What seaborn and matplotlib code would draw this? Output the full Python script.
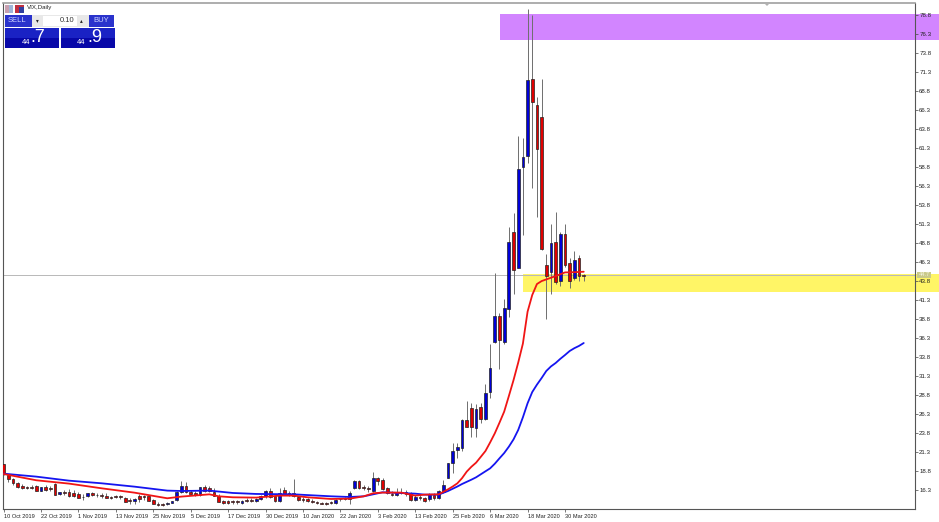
import numpy as np
import pandas as pd
import matplotlib
matplotlib.use('Agg')
import matplotlib.pyplot as plt
from matplotlib.patches import Rectangle
import seaborn as sns

opens = [19.7,18.32,17.79,17.27,16.91,16.78,16.74,16.83,16.26,16.78,16.56,17.09,15.86,16.04,16.04,15.91,15.86,15.47,15.51,15.95,
         15.73,15.69,15.6,15.38,15.51,15.51,15.25,14.98,14.94,15.55,15.51,15.51,14.98,14.5,14.5,14.46,14.68,15.03,16.04,16.87,
         16.12,16.0,15.69,16.7,16.56,16.12,15.6,14.94,14.9,14.9,14.85,14.59,15.07,15.07,14.9,15.16,15.51,16.21,15.51,14.94,
         16.3,16.0,15.91,15.38,15.12,15.16,14.85,14.72,14.68,14.68,14.72,14.68,15.2,15.25,15.16,16.56,17.57,16.74,16.56,16.21,
         17.97,17.66,16.56,15.82,15.64,16.12,16.12,15.91,14.98,15.38,15.25,15.16,15.69,15.33,16.12,17.97,19.85,21.56,21.91,25.55,
         27.09,24.54,27.31,25.69,29.28,35.81,39.23,35.85,40.11,50.32,45.51,58.88,60.28,70.38,66.95,65.38,45.9,45.06,48.93,43.87,
         50.0,46.17,44.19,46.82,44.67]
highs = [19.8,18.41,17.9,17.44,17.09,16.91,17.0,17.0,16.78,17.0,16.91,17.22,16.12,16.34,16.48,16.34,16.04,15.77,16.0,16.04,
         16.0,15.91,15.91,15.6,15.73,15.73,15.38,15.25,15.29,15.77,15.69,15.6,15.16,14.72,14.68,14.72,14.94,16.21,17.53,17.44,
         16.34,16.21,16.78,17.0,16.91,16.56,15.77,15.07,14.98,15.07,15.07,14.98,15.25,15.25,15.34,15.69,16.34,16.56,15.69,16.65,
         16.7,16.21,17.79,15.6,15.38,15.34,15.16,14.9,14.81,14.81,14.9,15.16,15.34,15.42,16.21,17.7,17.66,17.0,16.91,18.67,
         18.06,17.88,16.78,16.21,16.56,16.56,16.34,16.12,15.69,15.69,15.47,16.0,15.9,16.34,17.66,19.94,22.57,22.57,25.64,28.1,
         27.75,27.66,27.75,30.29,35.55,44.89,39.6,41.43,50.9,52.74,62.95,62.69,79.59,78.8,68.01,70.38,47.35,51.3,52.95,50.3,
         51.34,46.86,47.78,47.26,44.76]
lows = [18.3,17.35,17.0,16.65,16.48,16.48,16.48,16.21,16.21,16.21,16.21,15.69,15.69,15.69,15.47,15.47,15.25,15.03,15.47,15.6,
        15.38,15.34,15.25,15.16,15.25,15.16,14.72,14.5,14.55,14.81,15.03,14.9,14.46,14.28,14.28,14.37,14.59,14.9,15.95,15.91,
        15.77,15.6,15.6,16.12,16.04,15.51,14.72,14.55,14.55,14.55,14.55,14.5,14.72,14.77,14.77,14.98,15.34,15.34,14.81,14.72,
        15.69,15.51,15.38,14.9,14.81,14.72,14.59,14.5,14.46,14.42,14.5,14.55,14.9,14.98,14.55,16.43,16.43,16.3,16.04,16.04,
        17.0,16.34,15.77,15.55,15.55,15.77,15.6,14.9,14.9,15.03,14.81,14.94,15.03,15.2,16.0,17.88,18.54,20.51,21.52,24.59,
        23.36,23.36,25.12,25.55,28.4,35.7,32.26,35.6,39.14,42.12,45.5,49.89,59.36,56.07,52.3,47.92,38.8,42.12,43.44,43.18,
        45.72,42.92,43.97,43.84,43.88]
closes = [18.4,17.79,17.22,16.78,16.65,16.65,16.61,16.26,16.7,16.34,16.48,15.69,16.04,15.95,15.6,15.6,15.29,15.38,15.91,15.69,
          15.64,15.55,15.29,15.29,15.42,15.38,14.81,14.9,15.2,15.12,15.42,14.94,14.5,14.42,14.42,14.68,14.9,16.12,16.87,16.12,
          15.86,15.69,16.7,16.26,16.21,15.6,14.81,14.63,14.63,14.77,14.72,14.9,14.94,14.85,15.2,15.6,16.21,15.47,14.94,15.91,
          15.86,15.77,15.51,14.98,14.98,14.85,14.77,14.63,14.55,14.55,14.63,14.98,15.12,15.16,15.95,17.57,16.56,16.61,16.43,17.97,
          17.53,16.48,16.0,15.64,16.12,15.95,15.77,14.98,15.38,15.29,14.85,15.82,15.29,16.21,17.0,19.85,21.47,21.96,25.55,24.68,
          24.59,27.04,25.69,29.06,32.44,39.23,36.07,40.24,49.01,45.28,58.6,60.15,70.24,67.43,61.24,48.0,44.53,48.88,43.74,50.0,
          45.94,43.87,46.6,44.53,44.45]

fast_bar = [0,7,14,21,28,35,38,44,46,49,54,59,62,65,70,74,77,79,81,85,88,90,93,95,96,97,98,99,100,101,102,103,104,105,106,107,108,109,110,111,112,113,114,115,116,118,120,122,124]
fast_ma = [18.45,17.62,17.18,16.56,15.99,15.25,15.47,15.77,15.51,15.38,15.34,15.6,15.6,15.38,15.16,15.2,15.51,15.91,16.0,16.0,15.6,15.73,15.77,16.43,16.8,17.22,17.9,18.76,19.4,19.94,20.7,21.47,22.6,23.8,25.2,26.65,28.7,30.8,33.1,35.6,39.8,42.0,43.44,43.83,44.05,44.49,44.97,45.0,45.06]
slow_bar = [0,7,14,21,28,35,38,44,49,54,62,70,74,77,79,81,88,90,93,95,97,98,100,101,103,104,105,106,107,108,109,110,111,112,113,114,115,116,117,118,119,120,121,122,123,124]
slow_ma = [18.49,18.1,17.57,17.22,16.78,16.26,16.21,16.26,15.95,15.82,15.77,15.51,15.42,15.51,15.77,16.04,15.86,15.73,15.73,16.21,16.8,17.13,17.7,18.01,18.8,19.19,19.8,20.51,21.2,22.04,23.0,24.24,25.9,27.75,29.23,30.2,31.07,32.0,32.6,33.05,33.6,34.1,34.63,35.0,35.3,35.68]

date_labels = ['10 Oct 2019','22 Oct 2019','1 Nov 2019','13 Nov 2019','25 Nov 2019','5 Dec 2019','17 Dec 2019','30 Dec 2019',
               '10 Jan 2020','22 Jan 2020','3 Feb 2020','13 Feb 2020','25 Feb 2020','6 Mar 2020','18 Mar 2020','30 Mar 2020']
price_labels = ['%.1f' % (16.3 + 2.5 * n) for n in range(26)]

sns.set_style('white')
plt.rcParams['font.family'] = ['Liberation Sans', 'DejaVu Sans']
W, H = 939, 522

df = pd.DataFrame({'open': opens, 'high': highs, 'low': lows, 'close': closes})
df['bar'] = df.index
fast = pd.DataFrame({'bar': fast_bar, 'ma': fast_ma})
slow = pd.DataFrame({'bar': slow_bar, 'ma': slow_ma})

fig = plt.figure(figsize=(W / 100, H / 100), dpi=100)
ax = fig.add_axes([3 / W, 1 - 509 / H, 912 / W, 506 / H])
ax.set_xlim(-0.107, 194.8)
ax.set_ylim(13.84, 80.42)
ax.set_axisbelow('line')

# zones run past the price axis up to the image edge
ax.add_patch(Rectangle((106.1, 75.55), 94, 3.42, fc='#d285ff', ec='none', clip_on=False, zorder=1))
ax.add_patch(Rectangle((111.0, 42.39), 89, 2.37, fc='#fff566', ec='none', clip_on=False, zorder=1))
ax.axhline(44.63, color='#b8b8b8', lw=0.7, zorder=2)

ax.vlines(df['bar'], df['low'], df['high'], color='#6e6e6e', lw=0.7, zorder=3)
up = df[df['close'] >= df['open']]
down = df[df['close'] < df['open']]
ax.bar(up['bar'], up['close'] - up['open'], bottom=up['open'], width=0.58, color='#0000d8', edgecolor='#222222', lw=0.5, zorder=4)
ax.bar(down['bar'], down['open'] - down['close'], bottom=down['close'], width=0.58, color='#e00000', edgecolor='#222222', lw=0.5, zorder=4)

sns.lineplot(data=slow, x='bar', y='ma', color='#1515f0', lw=1.3, ax=ax, zorder=5)
sns.lineplot(data=fast, x='bar', y='ma', color='#f01515', lw=1.3, ax=ax, zorder=6)

ax.set_xlabel('')
ax.set_ylabel('')
ax.set_xticks(range(0, 121, 8))
ax.set_xticklabels(date_labels, fontsize=4.1, color='#222222', ha='left', va='top')
ax.set_yticks([16.3 + 2.5 * n for n in range(26)])
ax.set_yticklabels(price_labels, fontsize=4.4, color='#222222')
ax.yaxis.tick_right()
ax.tick_params(axis='x', length=2, width=0.5, color='#444444', pad=1.5, bottom=True)
ax.tick_params(axis='y', length=2, width=0.5, color='#444444', pad=1, right=True)
for name, sp in ax.spines.items():
    sp.set_color('#555555')
    sp.set_linewidth(0.8)
ax.spines['top'].set_color('#a0a0a0')
ax.spines['top'].set_linewidth(1.2)

def box(x0, y0, x1, y1, color, **kw):
    fig.add_artist(Rectangle((x0 / W, 1 - y1 / H), (x1 - x0) / W, (y1 - y0) / H, transform=fig.transFigure, fc=color, ec='none', **kw))

def label(x, y, s, size, color='white', ha='center'):
    fig.text(x / W, 1 - y / H, s, fontsize=size, color=color, ha=ha, va='center')

# bid price tag on the axis
box(917, 272, 931, 278, '#c9c98a')
label(924, 275, '44.7', 4, color='#f4f4e0')

# one click trading panel
box(5, 5, 9, 13, '#c9a0b0')
box(9, 5, 13, 13, '#9fb6d8')
box(15, 5, 24, 13, '#c03040')
box(19, 7, 24, 13, '#3040a0')
label(27, 8, 'VIX,Daily', 4.4, color='#222222', ha='left')
box(5, 15, 32, 27, '#2a33cc')
box(89, 15, 114, 27, '#2a33cc')
box(32, 15, 89, 27, '#e8e8e8')
box(43, 16, 77, 26, '#ffffff')
box(5, 28, 59, 38, '#1a22c4')
box(5, 38, 59, 48, '#0808a8')
box(61, 28, 115, 38, '#1a22c4')
box(61, 38, 115, 48, '#0808a8')
label(17, 21, 'SELL', 5.5, color='#cfd4ff')
label(101, 21, 'BUY', 5.5, color='#cfd4ff')
label(67.5, 20.7, '0.10', 5.5, color='#333333')
label(37.5, 21, '▾', 4, color='#222222')
label(81.5, 21, '▴', 4, color='#222222')
label(26, 42, '44', 5.5)
label(38, 38, '.7', 13)
label(81, 42, '44', 5.5)
label(94.5, 38, '.9', 13)

# small shift marker on top edge
fig.add_artist(plt.Polygon([[764 / W, 1 - 3 / H], [770 / W, 1 - 3 / H], [767 / W, 1 - 6 / H]], transform=fig.transFigure, fc='#b0b0b0', ec='none'))

fig.savefig('out.png', dpi=100)
